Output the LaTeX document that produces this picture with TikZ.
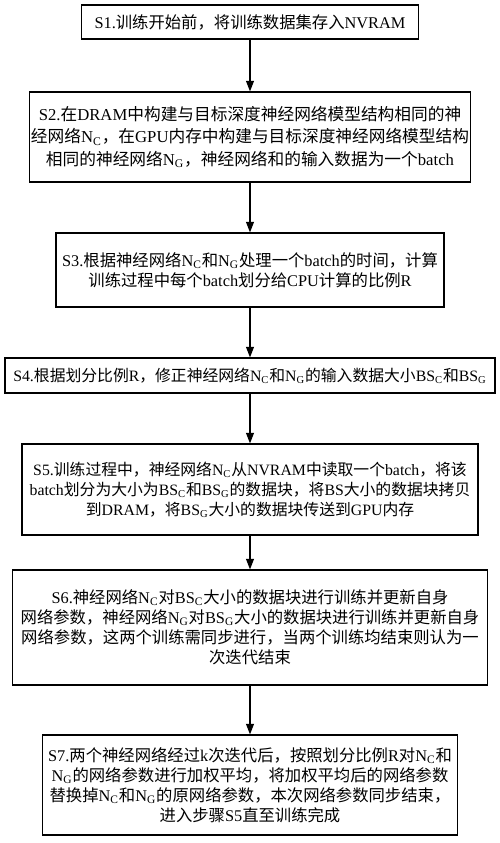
\documentclass[tikz,border=0pt]{standalone}
\usepackage{fontspec}
\setmainfont{Noto Sans CJK SC}
\newfontfamily\tms{Liberation Serif}
\usetikzlibrary{arrows.meta}
\newcommand\E[1]{{\tms #1}}
\newcommand\Nc{\E{N\textsubscript{C}}}
\newcommand\Ng{\E{N\textsubscript{G}}}
\newcommand\BSc{\E{BS\textsubscript{C}}}
\newcommand\BSg{\E{BS\textsubscript{G}}}
\tikzset{
  stepbox/.style={draw, line width=0.7pt, align=center, inner sep=0pt,
    font=\fontsize{9.3}{11.4}\selectfont},
  flow/.style={line width=0.7pt, -{Triangle[length=6pt,width=4.5pt]}}
}
\begin{document}
\begin{tikzpicture}[x=0.02cm,y=-0.02cm]
\useasboundingbox (0,0) rectangle (500,843);
\node[stepbox, minimum width=6.74cm, minimum height=0.68cm] (s1) at (250,22)
  {\E{S1.}训练开始前，将训练数据集存入\E{NVRAM}};
\node[stepbox, minimum width=8.82cm, minimum height=1.80cm,
  font=\fontsize{9.5}{12.6}\selectfont] (s2) at (250,137)
  {\E{S2.}在\E{DRAM}中构建与目标深度神经网络模型结构相同的神\\
   经网络\Nc，在\E{GPU}内存中构建与目标深度神经网络模型结构\\
   相同的神经网络\Ng，神经网络和的输入数据为一个\E{batch}};
\node[stepbox, minimum width=7.76cm, minimum height=1.48cm] (s3) at (250,270)
  {\E{S3.}根据神经网络\Nc 和\Ng 处理一个\E{batch}的时间，计算\\
   训练过程中每个\E{batch}划分给\E{CPU}计算的比例\E{R}};
\node[stepbox, minimum width=9.80cm, minimum height=0.70cm,
  font=\fontsize{9.0}{11.4}\selectfont] (s4) at (250,375.5)
  {\E{S4.}根据划分比例\E{R}，修正神经网络\Nc 和\Ng 的输入数据大小\BSc 和\BSg};
\node[stepbox, minimum width=9.12cm, minimum height=1.82cm,
  font=\fontsize{9.0}{11.4}\selectfont] (s5) at (250,489.5)
  {\E{S5.}训练过程中，神经网络\Nc 从\E{NVRAM}中读取一个\E{batch}，将该\\
   \E{batch}划分为大小为\BSc 和\BSg 的数据块，将\E{BS}大小的数据块拷贝\\
   到\E{DRAM}，将\BSg 大小的数据块传送到\E{GPU}内存};
\node[stepbox, minimum width=9.50cm, minimum height=2.30cm] (s6) at (250,627.5)
  {\E{S6.}神经网络\Nc 对\BSc 大小的数据块进行训练并更新自身\\
   网络参数，神经网络\Ng 对\BSg 大小的数据块进行训练并更新自身\\
   网络参数，这两个训练需同步进行，当两个训练均结束则认为一\\
   次迭代结束};
\node[stepbox, minimum width=8.30cm, minimum height=2.00cm] (s7) at (250,785)
  {\E{S7.}两个神经网络经过\E{k}次迭代后，按照划分比例\E{R}对\Nc 和\\
   \Ng 的网络参数进行加权平均，将加权平均后的网络参数\\
   替换掉\Nc 和\Ng 的原网络参数，本次网络参数同步结束，\\
   进入步骤\E{S5}直至训练完成};
\draw[flow] (s1) -- (s2);
\draw[flow] (s2) -- (s3);
\draw[flow] (s3) -- (s4);
\draw[flow] (s4) -- (s5);
\draw[flow] (s5) -- (s6);
\draw[flow] (s6) -- (s7);
\end{tikzpicture}
\end{document}
